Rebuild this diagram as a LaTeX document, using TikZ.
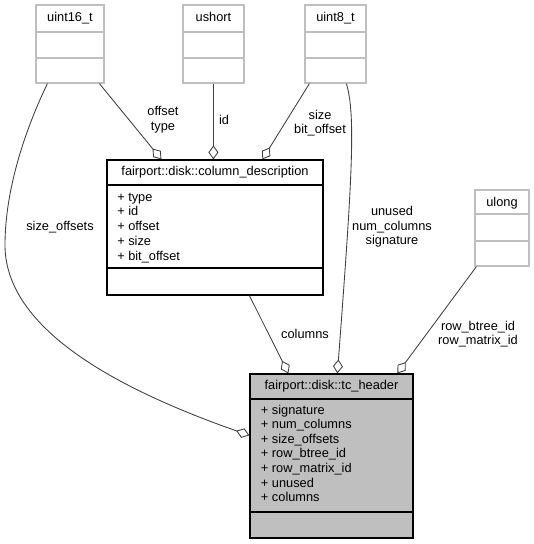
\documentclass[tikz,border=0pt]{standalone}
\usepackage{fontspec}
\setmainfont{Liberation Sans}
\usetikzlibrary{arrows.meta,calc,fit}
\definecolor{edgegray}{HTML}{404040}
\definecolor{boxgray}{HTML}{BFBFBF}
\definecolor{hdrfill}{HTML}{BFBFBF}
\begin{document}
\begin{tikzpicture}[x=0.75pt,y=-0.75pt,
  font=\fontsize{9.6}{11}\selectfont,
  typebox/.style={draw=boxgray,line width=0.9pt,fill=white,inner sep=0pt},
  classbox/.style={draw=black,line width=0.9pt,fill=white,inner sep=0pt},
  mainbox/.style={classbox,fill=hdrfill},
  typediv/.style={draw=boxgray,line width=0.9pt},
  classdiv/.style={draw=black,line width=0.9pt},
  ttl/.style={inner sep=0pt,text height=7pt,text depth=2pt},
  attr/.style={inner sep=0pt,anchor=west,text height=7pt,text depth=2pt},
  lbl/.style={inner sep=0pt,align=center,font=\fontsize{9.6}{11}\selectfont},
  agg/.style={draw=edgegray,line width=0.65pt,
    -{Diamond[length=10.5pt,width=7.5pt,fill=white,line width=0.65pt]}},
]
\useasboundingbox (0,0) rectangle (534,544);

% type boxes
\node[typebox,fit={(36,5)(104,83)}] (u16) {};
\draw[typediv] (36,32) -- (104,32) (36,58) -- (104,58);
\node[ttl] (u16t) at (70,18.5) {uint16\_t};

\node[typebox,fit={(183,5)(244,83)}] (ushort) {};
\draw[typediv] (183,32) -- (244,32) (183,58) -- (244,58);
\node[ttl] (ushortt) at (213.5,18.5) {ushort};

\node[typebox,fit={(305,5)(366,83)}] (u8) {};
\draw[typediv] (305,32) -- (366,32) (305,58) -- (366,58);
\node[ttl] (u8t) at (335.5,18.5) {uint8\_t};

\node[typebox,fit={(475,190)(529,266)}] (ulong) {};
\draw[typediv] (475,214) -- (529,214) (475,241) -- (529,241);
\node[ttl] (ulongt) at (502,203) {ulong};

% column_description
\node[classbox,fit={(107,160)(323,295)}] (cd) {};
\draw[classdiv] (107,185) -- (323,185) (107,268) -- (323,268);
\node[ttl] (cdt) at (215,172.5) {fairport::disk::column\_description};
\foreach \t [count=\i from 0] in {type,id,offset,size,bit\_offset}
  \node[attr] (cda\i) at (117,{197.7+14.8*\i}) {+ \t};

% tc_header
\node[mainbox,fit={(250,374)(413,538)}] (tc) {};
\draw[classdiv] (250,399) -- (413,399) (250,512) -- (413,512);
\node[ttl] (tct) at (331.5,386) {fairport::disk::tc\_header};
\foreach \t [count=\i from 0] in {signature,num\_columns,size\_offsets,row\_btree\_id,row\_matrix\_id,unused,columns}
  \node[attr] (tca\i) at (260.7,{410.7+14.6*\i}) {+ \t};

% connectors
\draw[agg] ($(u16.south west)+(12,0)$) .. controls (25,130) and (5,190) .. (5,245)
  .. controls (5,330) and (120,390) .. ($(tc.north west)+(0,62)$);
\draw[agg] ($(u16.south west)+(64,0)$) -- ($(cd.north west)+(55,0)$);
\draw[agg] ($(ushort.south west)+(31,0)$) -- ($(cd.north west)+(107,0)$);
\draw[agg] ($(u8.south west)+(5,0)$) -- ($(cd.north west)+(156,0)$);
\draw[agg] ($(u8.south west)+(42,0)$) .. controls (356,115) and (352,180) .. ($(tc.north west)+(88,0)$);
\draw[agg] ($(cd.south west)+(143,0)$) -- ($(tc.north west)+(39,0)$);
\draw[agg] ($(ulong.south west)+(2,0)$) -- ($(tc.north west)+(148,0)$);

% edge labels
\node[lbl] (l1) at (60,227) {size\_offsets};
\node[lbl] (l2) at (163,120) {offset\\type};
\node[lbl] (l3) at (224,120) {id};
\node[lbl] (l4) at (320,123) {size\\bit\_offset};
\node[lbl] (l5) at (392,227) {unused\\num\_columns\\signature};
\node[lbl] (l6) at (305,334) {columns};
\node[lbl] (l7) at (478,334) {row\_btree\_id\\row\_matrix\_id};
\end{tikzpicture}
\end{document}
